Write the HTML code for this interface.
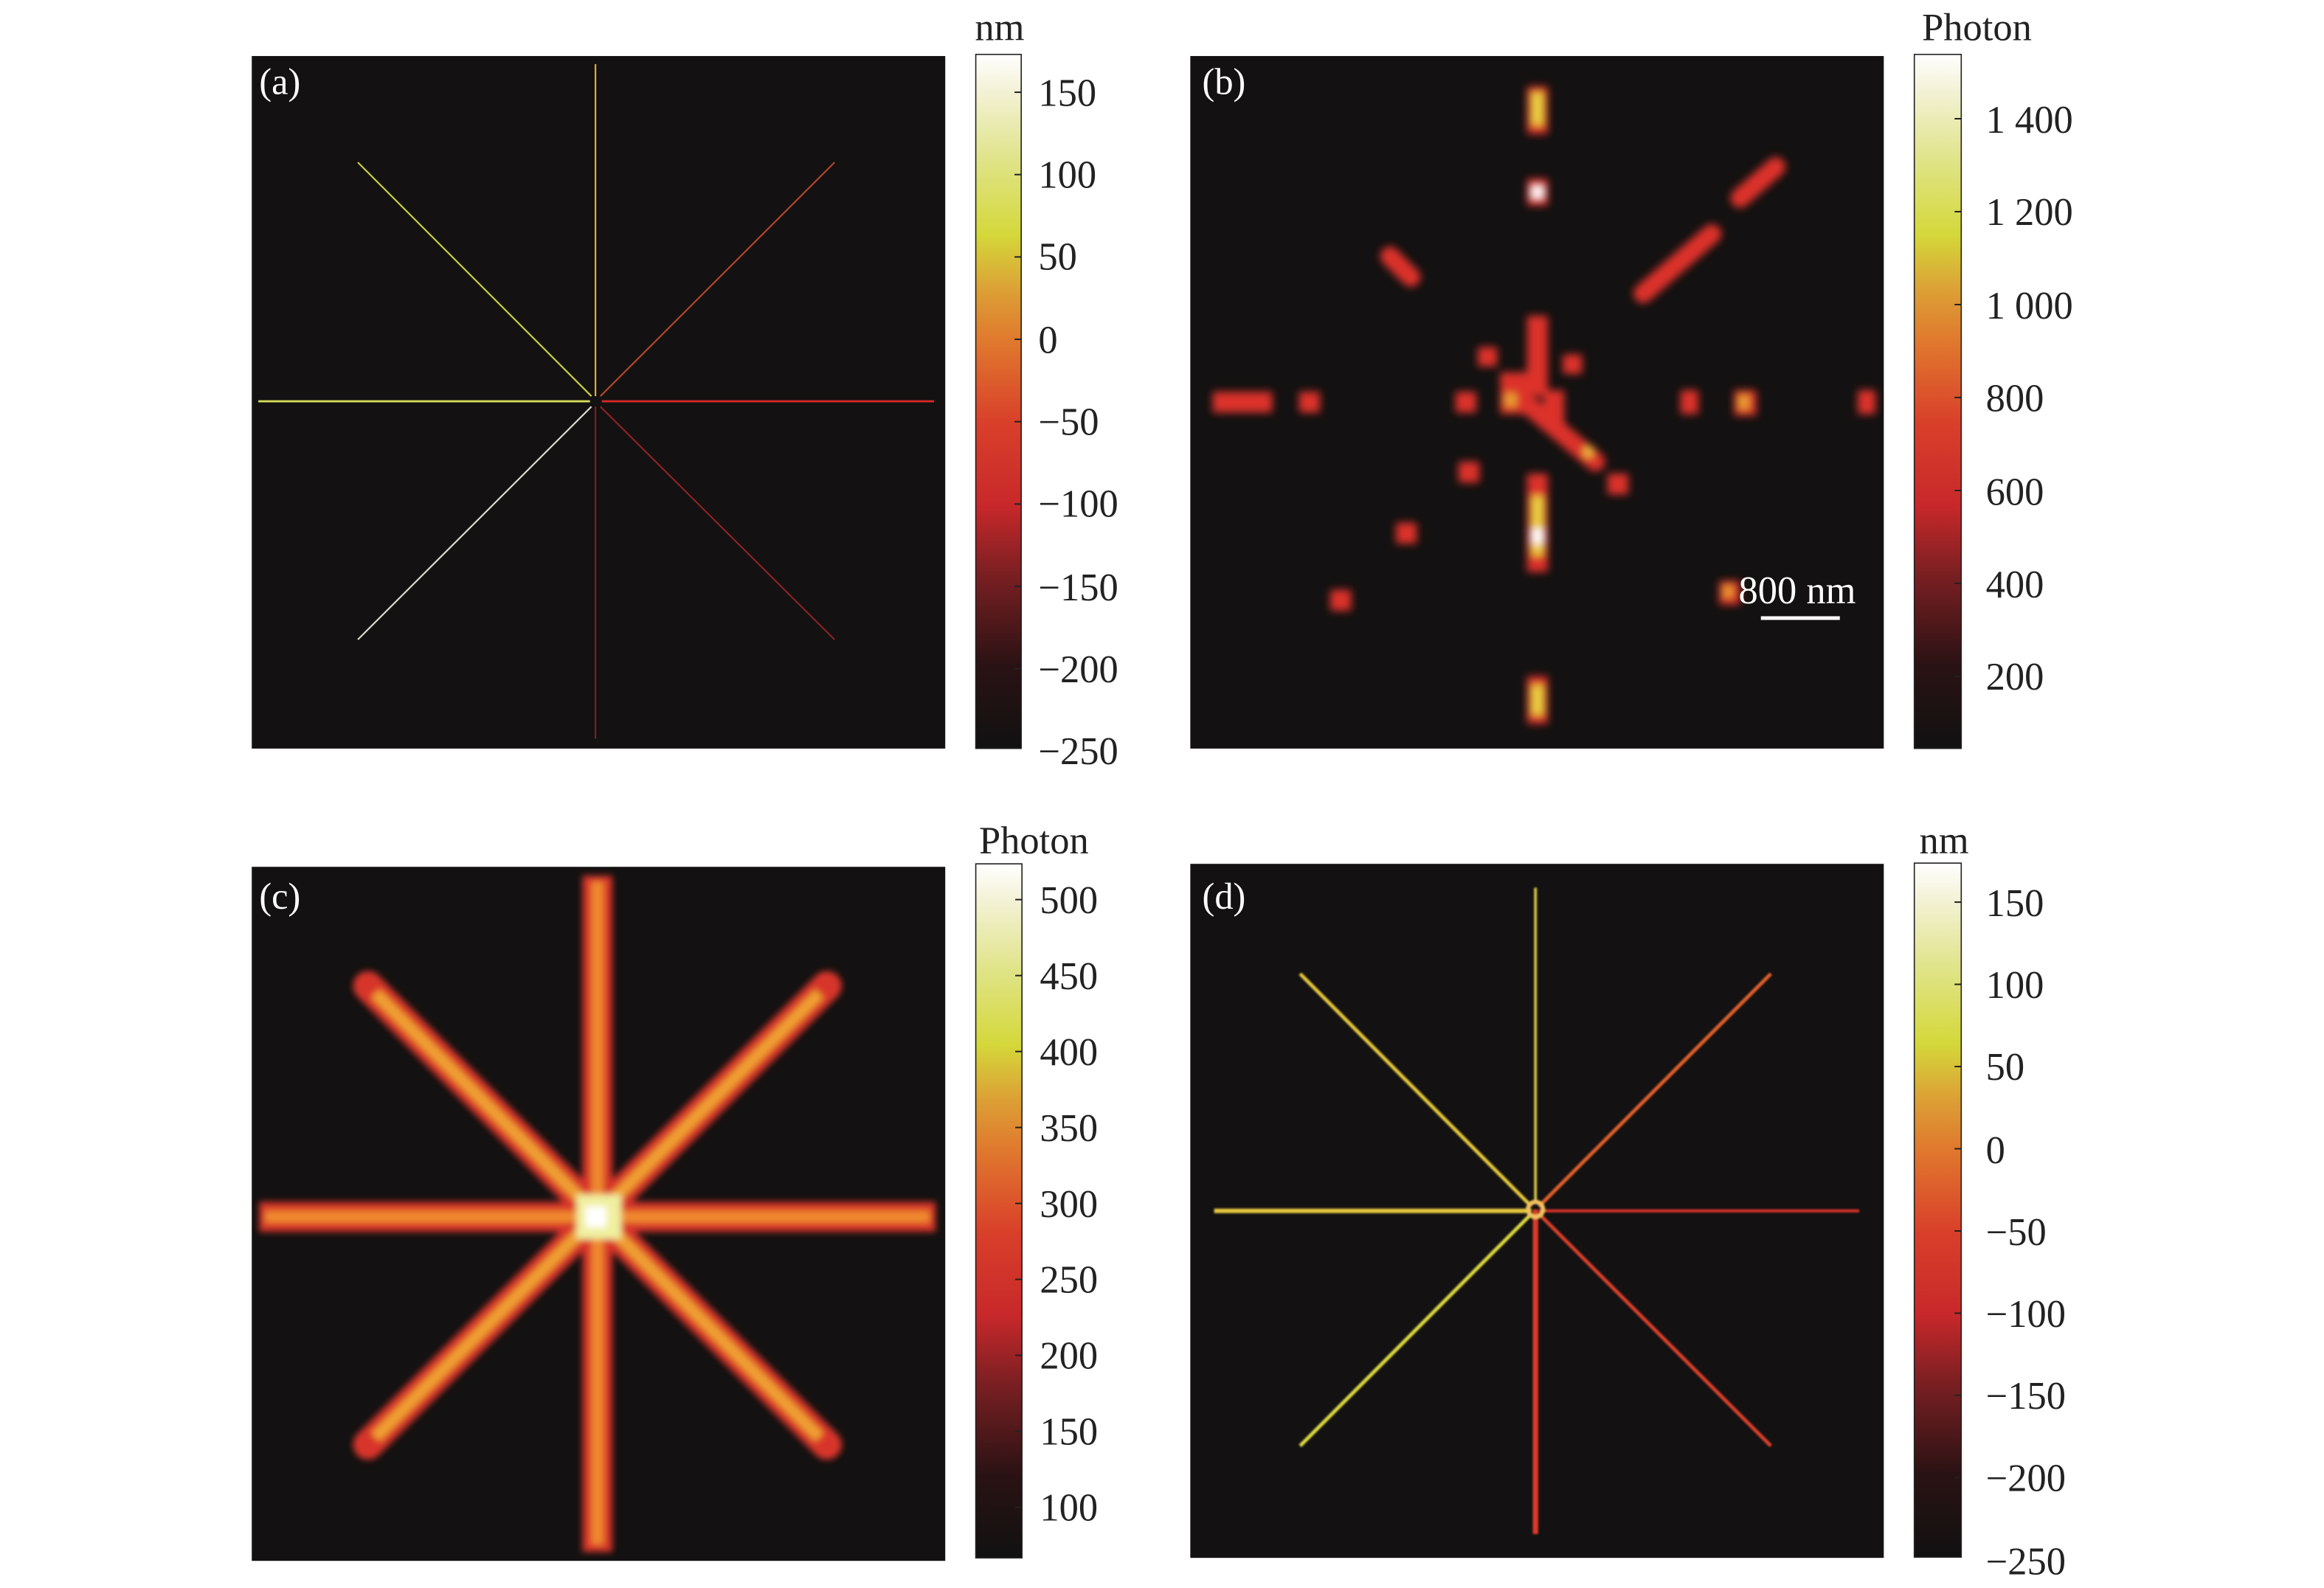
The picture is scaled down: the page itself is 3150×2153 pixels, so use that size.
<!DOCTYPE html>
<html><head><meta charset="utf-8"><style>
html,body{margin:0;padding:0;background:#fff;}
svg{display:block;}
text{font-family:"Liberation Serif",serif;}
</style></head><body>
<svg width="3150" height="2153" viewBox="0 0 1560 1066.2" xmlns="http://www.w3.org/2000/svg">
<defs>
<linearGradient id="cm" x1="0" y1="1" x2="0" y2="0">
<stop offset="0" stop-color="#111"/>
<stop offset="0.12" stop-color="#2a1214"/>
<stop offset="0.25" stop-color="#7a1f22"/>
<stop offset="0.35" stop-color="#c8282a"/>
<stop offset="0.47" stop-color="#d9402a"/>
<stop offset="0.59" stop-color="#e07a2e"/>
<stop offset="0.66" stop-color="#dca035"/>
<stop offset="0.74" stop-color="#d4d83a"/>
<stop offset="0.85" stop-color="#e0e48a"/>
<stop offset="0.95" stop-color="#f4f2d8"/>
<stop offset="1" stop-color="#fff"/>
</linearGradient>
<filter id="bl" x="-20%" y="-20%" width="140%" height="140%"><feGaussianBlur stdDeviation="2.2"/></filter>
<filter id="blb" x="-20%" y="-20%" width="140%" height="140%"><feGaussianBlur stdDeviation="2.8"/></filter>
<filter id="bl2" x="-20%" y="-20%" width="140%" height="140%"><feGaussianBlur stdDeviation="0.6"/></filter>
</defs>

<!-- Panel a -->
<rect x="169" y="37.6" width="465.5" height="465" fill="#131111"/>
<g stroke-width="1.1" fill="none">
<line x1="399.7" y1="43" x2="399.7" y2="266" stroke="#dfa93a"/>
<line x1="399.7" y1="273" x2="399.7" y2="496" stroke="#7a1f22"/>
<line x1="173.4" y1="269.4" x2="396" y2="269.4" stroke="#d5dc5a" stroke-width="1.4"/>
<line x1="404" y1="269.4" x2="627" y2="269.4" stroke="#d52a2a" stroke-width="1.4"/>
<line x1="240.2" y1="109" x2="397" y2="266" stroke="#c8cf3a"/>
<line x1="560.2" y1="109" x2="403" y2="266" stroke="#b0452a"/>
<line x1="240.2" y1="429.4" x2="397" y2="273" stroke="#d8d8d0"/>
<line x1="560.2" y1="429.4" x2="403" y2="273" stroke="#8a2226"/>
</g>
<text x="174" y="63" font-size="25" fill="#fff">(a)</text>
<rect x="655" y="36.5" width="30.5" height="466" fill="url(#cm)" stroke="#222" stroke-width="0.8"/>
<g stroke="#222" stroke-width="1">
<line x1="681" x2="685.5" y1="61.9" y2="61.9"/><line x1="681" x2="685.5" y1="117.2" y2="117.2"/><line x1="681" x2="685.5" y1="172.5" y2="172.5"/><line x1="681" x2="685.5" y1="227.8" y2="227.8"/><line x1="681" x2="685.5" y1="283.1" y2="283.1"/><line x1="681" x2="685.5" y1="338.4" y2="338.4"/><line x1="681" x2="685.5" y1="393.7" y2="393.7"/><line x1="681" x2="685.5" y1="449" y2="449"/>
</g>
<g font-size="26" fill="#222">
<text x="671" y="27" text-anchor="middle">nm</text>
<text x="697" y="71">150</text><text x="697" y="126">100</text><text x="697" y="181">50</text><text x="697" y="237">0</text><text x="697" y="292">−50</text><text x="697" y="347">−100</text><text x="697" y="403">−150</text><text x="697" y="458">−200</text><text x="697" y="513">−250</text>
</g>

<!-- Panel b -->
<rect x="799" y="37.6" width="465.5" height="465" fill="#131111"/>
<g filter="url(#blb)" transform="translate(-4,0)">
<g fill="#dc302a">
<rect x="1029" y="58" width="14" height="32"/>
<rect x="1029" y="120" width="14" height="18"/>
<rect x="1029" y="212" width="14" height="54"/>
<rect x="996" y="233" width="13" height="13"/>
<rect x="1053" y="238" width="13" height="13"/>
<rect x="1011" y="250" width="22" height="28"/>
<rect x="1040" y="262" width="14" height="22"/>
<rect x="818" y="263" width="40" height="14"/>
<rect x="876" y="263" width="14" height="14"/>
<rect x="981" y="263" width="14" height="14"/>
<rect x="1132" y="262" width="12" height="16"/>
<rect x="1168" y="262" width="15" height="17"/>
<rect x="1251" y="262" width="12" height="16"/>
<rect x="983" y="310" width="14" height="14"/>
<rect x="941" y="351" width="14" height="14"/>
<rect x="897" y="396" width="14" height="14"/>
<rect x="1158" y="390" width="14" height="16"/>
<rect x="1083" y="318" width="14" height="14"/>
<rect x="1029" y="318" width="14" height="66"/>
<rect x="1029" y="454" width="14" height="32"/>
</g>
<g stroke="#dc302a" stroke-width="13" stroke-linecap="round">
<line x1="1172" y1="133" x2="1196" y2="112"/>
<line x1="1107" y1="197" x2="1153" y2="157"/>
<line x1="937" y1="172" x2="951" y2="186"/>
<line x1="1030" y1="272" x2="1075" y2="310"/>
</g>
<g fill="#e8d040">
<rect x="1032" y="62" width="8" height="22"/>
<rect x="1032" y="125" width="8" height="8" fill="#fff"/>
<rect x="1014" y="264" width="8" height="9" fill="#e8a030"/>
<rect x="1067" y="300" width="6" height="7" fill="#f0c040"/>
<rect x="1171" y="265" width="7" height="10" fill="#e8a030"/>
<rect x="1161" y="393" width="6" height="8" fill="#e8a030"/>
<rect x="1032" y="333" width="8" height="40"/>
<rect x="1032" y="355" width="8" height="10" fill="#fff"/>
<rect x="1032" y="460" width="8" height="20"/>
</g>
</g>
<text x="807" y="63" font-size="25" fill="#fff">(b)</text>
<text x="1167" y="405" font-size="26" fill="#fff">800 nm</text>
<line x1="1182" y1="415" x2="1235" y2="415" stroke="#fff" stroke-width="2.5"/>
<rect x="1285" y="36.5" width="31.5" height="466" fill="url(#cm)" stroke="#222" stroke-width="0.8"/>
<g stroke="#222" stroke-width="1">
<line x1="1312" x2="1316.5" y1="79.7" y2="79.7"/><line x1="1312" x2="1316.5" y1="142.1" y2="142.1"/><line x1="1312" x2="1316.5" y1="204.5" y2="204.5"/><line x1="1312" x2="1316.5" y1="266.9" y2="266.9"/><line x1="1312" x2="1316.5" y1="329.3" y2="329.3"/><line x1="1312" x2="1316.5" y1="391.7" y2="391.7"/><line x1="1312" x2="1316.5" y1="454.1" y2="454.1"/>
</g>
<g font-size="26" fill="#222">
<text x="1327" y="27" text-anchor="middle">Photon</text>
<text x="1333" y="89">1 400</text><text x="1333" y="151">1 200</text><text x="1333" y="214">1 000</text><text x="1333" y="276">800</text><text x="1333" y="339">600</text><text x="1333" y="401">400</text><text x="1333" y="463">200</text>
</g>

<!-- Panel c -->
<rect x="169" y="582" width="465.5" height="466" fill="#131111"/>
<g filter="url(#bl)" stroke-linecap="butt">
<g stroke="#d8352a" stroke-width="20">
<line x1="401" y1="588" x2="401" y2="1042"/>
<line x1="174" y1="817" x2="628" y2="817"/>
<line x1="247" y1="662" x2="555" y2="970" stroke-linecap="round"/>
<line x1="555" y1="662" x2="247" y2="970" stroke-linecap="round"/>
</g>
<g stroke="#ef8a2e" stroke-width="8">
<line x1="401" y1="592" x2="401" y2="1037"/>
<line x1="178" y1="817" x2="624" y2="817"/>
<line x1="252" y1="667" x2="550" y2="965" stroke="#f0a032"/>
<line x1="550" y1="667" x2="252" y2="965" stroke="#f0a032"/>
</g>
<rect x="387" y="802" width="30" height="30" fill="#f0f0a0"/>
<rect x="393" y="810" width="14" height="14" fill="#fff"/>
</g>
<text x="174" y="610" font-size="25" fill="#fff">(c)</text>
<rect x="655" y="580" width="31" height="466" fill="url(#cm)" stroke="#222" stroke-width="0.8"/>
<g stroke="#222" stroke-width="1">
<line x1="681.5" x2="686" y1="604" y2="604"/><line x1="681.5" x2="686" y1="655" y2="655"/><line x1="681.5" x2="686" y1="706" y2="706"/><line x1="681.5" x2="686" y1="757" y2="757"/><line x1="681.5" x2="686" y1="808" y2="808"/><line x1="681.5" x2="686" y1="859" y2="859"/><line x1="681.5" x2="686" y1="910" y2="910"/><line x1="681.5" x2="686" y1="961" y2="961"/><line x1="681.5" x2="686" y1="1012" y2="1012"/>
</g>
<g font-size="26" fill="#222">
<text x="694" y="573" text-anchor="middle">Photon</text>
<text x="698" y="613">500</text><text x="698" y="664">450</text><text x="698" y="715">400</text><text x="698" y="766">350</text><text x="698" y="817">300</text><text x="698" y="868">250</text><text x="698" y="919">200</text><text x="698" y="970">150</text><text x="698" y="1021">100</text>
</g>

<!-- Panel d -->
<rect x="799" y="580" width="465.5" height="466" fill="#131111"/>
<g filter="url(#bl2)" fill="none" stroke-width="2.4">
<line x1="1030.7" y1="596" x2="1030.7" y2="806" stroke="#e0d040" stroke-width="1.8"/>
<line x1="1030.7" y1="812" x2="1030.7" y2="1030" stroke="#dc3a2a" stroke-width="3.6"/>
<line x1="815" y1="813" x2="1028" y2="813" stroke="#e6c63c" stroke-width="3"/>
<line x1="1033" y1="813" x2="1248" y2="813" stroke="#d8302c" stroke-width="2"/>
<line x1="872.7" y1="653.8" x2="1028" y2="810" stroke="#e6c83a"/>
<line x1="1188.7" y1="653.8" x2="1033" y2="810" stroke="#e4602a"/>
<line x1="872.7" y1="970.8" x2="1028" y2="815" stroke="#e0dc40"/>
<line x1="1188.7" y1="970.8" x2="1033" y2="815" stroke="#dc402a"/>
<circle cx="1030.7" cy="812" r="5" stroke="#f0c060" stroke-width="3"/>
</g>
<text x="807" y="610" font-size="25" fill="#fff">(d)</text>
<rect x="1285" y="579.5" width="31.5" height="466" fill="url(#cm)" stroke="#222" stroke-width="0.8"/>
<g stroke="#222" stroke-width="1">
<line x1="1312" x2="1316.5" y1="605.7" y2="605.7"/><line x1="1312" x2="1316.5" y1="660.9" y2="660.9"/><line x1="1312" x2="1316.5" y1="716.1" y2="716.1"/><line x1="1312" x2="1316.5" y1="771.3" y2="771.3"/><line x1="1312" x2="1316.5" y1="826.5" y2="826.5"/><line x1="1312" x2="1316.5" y1="881.7" y2="881.7"/><line x1="1312" x2="1316.5" y1="936.9" y2="936.9"/><line x1="1312" x2="1316.5" y1="992.1" y2="992.1"/>
</g>
<g font-size="26" fill="#222">
<text x="1305" y="573" text-anchor="middle">nm</text>
<text x="1333" y="615">150</text><text x="1333" y="670">100</text><text x="1333" y="725">50</text><text x="1333" y="781">0</text><text x="1333" y="836">−50</text><text x="1333" y="891">−100</text><text x="1333" y="946">−150</text><text x="1333" y="1001">−200</text><text x="1333" y="1057">−250</text>
</g>
</svg>
</body></html>
